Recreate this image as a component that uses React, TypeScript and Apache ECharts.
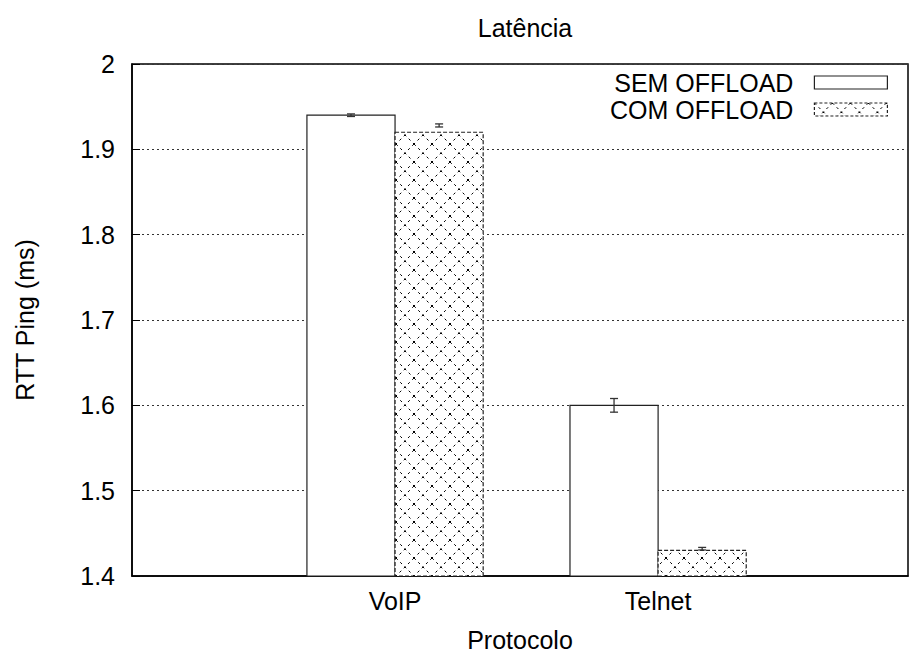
import React, { useEffect, useRef } from 'react';
import * as echarts from 'echarts';

const categories = ['VoIP', 'Telnet'];
const seriesNames = ['SEM OFFLOAD', 'COM OFFLOAD'];
const semValues = [1.94, 1.6];
const comValues = [1.92, 1.43];
const semErrLow = [1.9385, 1.592];
const semErrHigh = [1.9415, 1.608];
const comErrLow = [1.9262, 1.4305];
const comErrHigh = [1.9298, 1.4335];
const Y_MIN = 1.4;
const Y_MAX = 2;
const Y_STEP = 0.1;

const FONT = 'Liberation Sans, Arial, Helvetica, sans-serif';
const FS = 25;
const BAR_W = 0.335;

function makePattern(): HTMLCanvasElement {
  const s = 18;
  const c = document.createElement('canvas');
  c.width = s;
  c.height = s;
  const ctx = c.getContext('2d')!;
  ctx.fillStyle = '#fff';
  ctx.fillRect(0, 0, s, s);
  ctx.strokeStyle = '#000';
  ctx.lineWidth = 1;
  ctx.setLineDash([2.5, 3.5]);
  ctx.beginPath();
  ctx.moveTo(0, 0);
  ctx.lineTo(s, s);
  ctx.moveTo(s, 0);
  ctx.lineTo(0, s);
  ctx.stroke();
  return c;
}

export default function App() {
  const ref = useRef<HTMLDivElement>(null);
  useEffect(() => {
    if (!ref.current) return;
    const chart = echarts.init(ref.current, null, { renderer: 'svg' });
    const canvas = makePattern();
    const pattern: any = { image: canvas, repeat: 'repeat', imageWidth: canvas.width, imageHeight: canvas.height };

    const barRender = (side: number, fill: any, dash: any) => (params: any, api: any) => {
      const x = api.value(0);
      const v = api.value(1);
      const x0 = side < 0 ? x - BAR_W : x;
      const p1 = api.coord([x0, v]);
      const p2 = api.coord([x0 + BAR_W, Y_MIN]);
      return {
        type: 'rect',
        shape: { x: p1[0], y: p1[1], width: p2[0] - p1[0], height: p2[1] - p1[1] },
        style: { fill, stroke: '#222', lineWidth: 1.2, lineDash: dash },
      };
    };

    const errRender = (side: number) => (params: any, api: any) => {
      const x = api.value(0) + side * BAR_W / 2;
      const lo = api.coord([x, api.value(1)]);
      const hi = api.coord([x, api.value(2)]);
      const cap = 4;
      const st = { stroke: '#333', lineWidth: 1.3 };
      return {
        type: 'group',
        children: [
          { type: 'line', shape: { x1: lo[0], y1: lo[1], x2: hi[0], y2: hi[1] }, style: st },
          { type: 'line', shape: { x1: lo[0] - cap, y1: lo[1], x2: lo[0] + cap, y2: lo[1] }, style: st },
          { type: 'line', shape: { x1: hi[0] - cap, y1: hi[1], x2: hi[0] + cap, y2: hi[1] }, style: st },
        ],
      };
    };

    const semData = categories.map((_, i) => [i, semValues[i]]);
    const comData = categories.map((_, i) => [i, comValues[i]]);
    const semErr = categories.map((_, i) => [i, semErrLow[i], semErrHigh[i]]);
    const comErr = categories.map((_, i) => [i, comErrLow[i], comErrHigh[i]]);

    chart.setOption({
      animation: false,
      backgroundColor: '#fff',
      textStyle: { fontFamily: FONT },
      title: {
        text: 'Latência',
        left: 520,
        textAlign: 'center',
        top: 10,
        textStyle: { fontFamily: FONT, fontSize: FS, fontWeight: 'normal', color: '#000' },
      },
      legend: {
        orient: 'vertical',
        right: 18,
        top: 65,
        align: 'right',
        itemWidth: 73,
        itemHeight: 13,
        itemGap: 2,
        selectedMode: false,
        textStyle: { fontFamily: FONT, fontSize: FS, color: '#000', padding: [0, 16, 0, 0], lineHeight: 25 },
        data: [
          { name: seriesNames[0], icon: 'rect', itemStyle: { color: '#fff', borderColor: '#222', borderWidth: 1.2 } },
          { name: seriesNames[1], icon: 'rect', itemStyle: { color: pattern, borderColor: '#222', borderWidth: 1.2, borderType: [3, 2] } },
        ],
      },
      grid: {
        left: 132,
        right: 3,
        top: 64,
        bottom: 81,
        show: true,
        borderColor: '#000',
        borderWidth: 1.5,
        backgroundColor: 'transparent',
      },
      xAxis: {
        type: 'value',
        min: -1,
        max: 1.95,
        interval: 1,
        name: 'Protocolo',
        nameLocation: 'middle',
        nameGap: 51,
        nameTextStyle: { fontFamily: FONT, fontSize: FS, color: '#000' },
        axisLine: { show: true, onZero: false, lineStyle: { color: '#000', width: 1.5 } },
        axisTick: { show: false },
        splitLine: { show: false },
        axisLabel: {
          fontFamily: FONT,
          fontSize: FS,
          color: '#000',
          margin: 12,
          showMaxLabel: false,
          formatter: (v: number) => (Number.isInteger(v) && v >= 0 && v < categories.length ? categories[v] : ''),
        },
      },
      yAxis: {
        type: 'value',
        min: Y_MIN,
        max: Y_MAX,
        interval: Y_STEP,
        name: 'RTT Ping (ms)',
        nameLocation: 'middle',
        nameGap: 95,
        nameTextStyle: { fontFamily: FONT, fontSize: FS, color: '#000' },
        axisLine: { show: true, onZero: false, lineStyle: { color: '#000', width: 1.5 } },
        axisTick: { show: true, inside: true, length: 8, lineStyle: { color: '#000', width: 1 } },
        axisLabel: {
          fontFamily: FONT,
          fontSize: FS,
          color: '#000',
          margin: 17,
          formatter: (v: number) => String(Math.round(v * 10) / 10),
        },
        splitLine: { show: true, lineStyle: { color: '#333', width: 1, type: [2, 3] } },
      },
      series: [
        { type: 'custom', name: seriesNames[0], data: semData, renderItem: barRender(-1, '#fff', null), z: 2 },
        { type: 'custom', name: seriesNames[1], data: comData, renderItem: barRender(1, pattern, [4, 2]), z: 2 },
        { type: 'custom', name: 'err1', data: semErr, renderItem: errRender(-1), z: 3 },
        { type: 'custom', name: 'err2', data: comErr, renderItem: errRender(1), z: 3 },
      ],
    });
    return () => chart.dispose();
  }, []);
  return <div ref={ref} style={{ position: 'fixed', left: 0, top: 0, width: 911, height: 657 }} />;
}
